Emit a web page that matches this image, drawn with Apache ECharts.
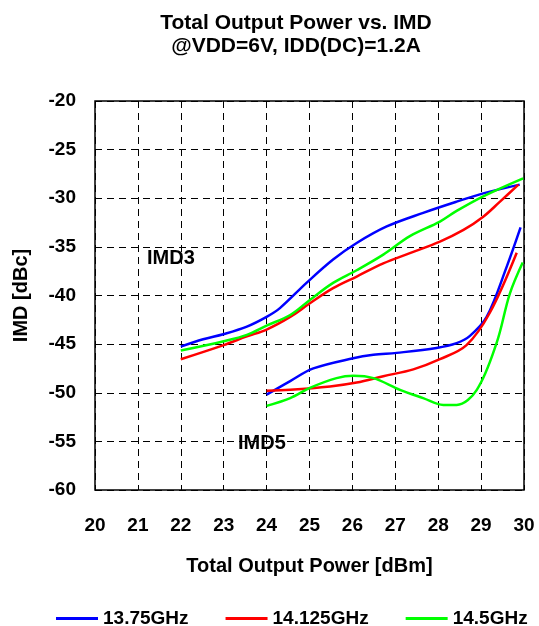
<!DOCTYPE html>
<html><head><meta charset="utf-8">
<script src="https://cdn.jsdelivr.net/npm/echarts@6/dist/echarts.min.js"></script>
<style>html,body{margin:0;padding:0;background:#fff}#c{width:539px;height:626px}</style>
</head><body><div id="c"></div>
<script>
const legendNames = ['13.75GHz', '14.125GHz', '14.5GHz'];
const colors = ['#0000FF', '#FF0000', '#00FF00'];
const xTicks = [20, 21, 22, 23, 24, 25, 26, 27, 28, 29, 30];
const yTicks = [-60, -55, -50, -45, -40, -35, -30, -25, -20];

// IMD3 curves [Pout dBm, IMD dBc]
const blueIMD3 = [[22,-45.25],[22.52,-44.5],[22.99,-43.98],[23.54,-43.2],[24,-42.2],[24.31,-41.3],[24.93,-38.7],[25.55,-36.3],[26.1,-34.6],[26.8,-32.9],[27.65,-31.5],[28.43,-30.35],[29.05,-29.5],[29.9,-28.6]];
const redIMD3 = [[22,-46.55],[23,-45.1],[23.54,-44.2],[24,-43.5],[24.55,-42.2],[25.01,-40.8],[25.55,-39.25],[26.1,-38.05],[26.72,-36.7],[27.34,-35.65],[28.04,-34.46],[28.59,-33.26],[29.05,-31.9],[29.44,-30.35],[29.87,-28.6]];
const greenIMD3 = [[22,-45.66],[23,-44.7],[23.54,-44.05],[24,-43.1],[24.55,-42],[25.01,-40.45],[25.55,-38.7],[26.1,-37.4],[26.72,-35.8],[27.34,-33.9],[28.04,-32.4],[28.43,-31.3],[29.05,-29.8],[29.98,-27.95]];
// IMD5 curves
const blueIMD5 = [[24,-50.2],[24.55,-48.8],[25.09,-47.5],[26.02,-46.45],[26.49,-46.1],[27.03,-45.9],[27.96,-45.4],[28.43,-44.9],[28.74,-44.15],[29.13,-42.2],[29.6,-37.0],[29.92,-33.0]];
const redIMD5 = [[24,-49.8],[24.55,-49.7],[25.48,-49.35],[26.1,-48.95],[26.72,-48.3],[27.42,-47.6],[28.04,-46.55],[28.66,-45.1],[29.2,-41.8],[29.83,-35.6]];
const greenIMD5 = [[24,-51.35],[24.55,-50.55],[25.01,-49.5],[25.63,-48.5],[26.02,-48.25],[26.49,-48.5],[27.11,-49.7],[27.65,-50.55],[28.12,-51.25],[28.43,-51.25],[28.9,-49.7],[29.36,-44.9],[29.67,-39.8],[29.97,-36.6]];

const seriesData = [
  [blueIMD3, 0], [redIMD3, 1], [greenIMD3, 2],
  [blueIMD5, 0], [redIMD5, 1], [greenIMD5, 2]
];

const FONT = '"Liberation Sans", Arial, sans-serif';
const chart = echarts.init(document.getElementById('c'), null, {renderer: 'canvas'});
chart.setOption({
  animation: false,
  backgroundColor: '#fff',
  textStyle: {fontFamily: FONT},
  title: {
    text: 'Total Output Power vs. IMD\n@VDD=6V, IDD(DC)=1.2A',
    left: 291, top: 7, textAlign: 'center',
    textStyle: {fontFamily: FONT, fontSize: 21, fontWeight: 'bold', color: '#000', lineHeight: 23}
  },
  grid: {left: 95, right: 15, top: 101, bottom: 136, show: true, borderColor: '#000', borderWidth: 1.5},
  legend: {
    data: legendNames, top: 604, left: 51, itemGap: 37, width: 488,
    icon: 'rect', itemWidth: 42, itemHeight: 3,
    textStyle: {fontFamily: FONT, fontSize: 19, fontWeight: 'bold', color: '#000'}
  },
  xAxis: {
    type: 'value', min: xTicks[0], max: xTicks[xTicks.length - 1], interval: 1,
    name: 'Total Output Power [dBm]', nameLocation: 'middle', nameGap: 66,
    nameTextStyle: {fontFamily: FONT, fontSize: 20, fontWeight: 'bold', color: '#000'},
    axisLine: {show: false}, axisTick: {show: false},
    axisLabel: {fontFamily: FONT, fontSize: 19, fontWeight: 'bold', color: '#000', margin: 26},
    splitLine: {show: true, lineStyle: {color: '#000', type: [7, 5], width: 1}}
  },
  yAxis: {
    type: 'value', min: yTicks[0], max: yTicks[yTicks.length - 1], interval: 5,
    name: 'IMD [dBc]', nameLocation: 'middle', nameGap: 64,
    nameTextStyle: {fontFamily: FONT, fontSize: 20, fontWeight: 'bold', color: '#000'},
    axisLine: {show: false}, axisTick: {show: false},
    axisLabel: {fontFamily: FONT, fontSize: 19, fontWeight: 'bold', color: '#000', margin: 19},
    splitLine: {show: true, lineStyle: {color: '#000', type: [7, 5], width: 1}}
  },
  graphic: [
    {type: 'text', left: 147, top: 248, style: {text: 'IMD3', font: 'bold 20px ' + FONT, fill: '#000'}},
    {type: 'text', left: 238, top: 433, style: {text: 'IMD5', font: 'bold 20px ' + FONT, fill: '#000'}}
  ],
  series: seriesData.map(([d, ci]) => ({
    type: 'line', name: legendNames[ci], data: d, smooth: 0.35,
    showSymbol: false, symbol: 'none', color: colors[ci],
    lineStyle: {color: colors[ci], width: 2.5}
  }))
});
</script></body></html>
